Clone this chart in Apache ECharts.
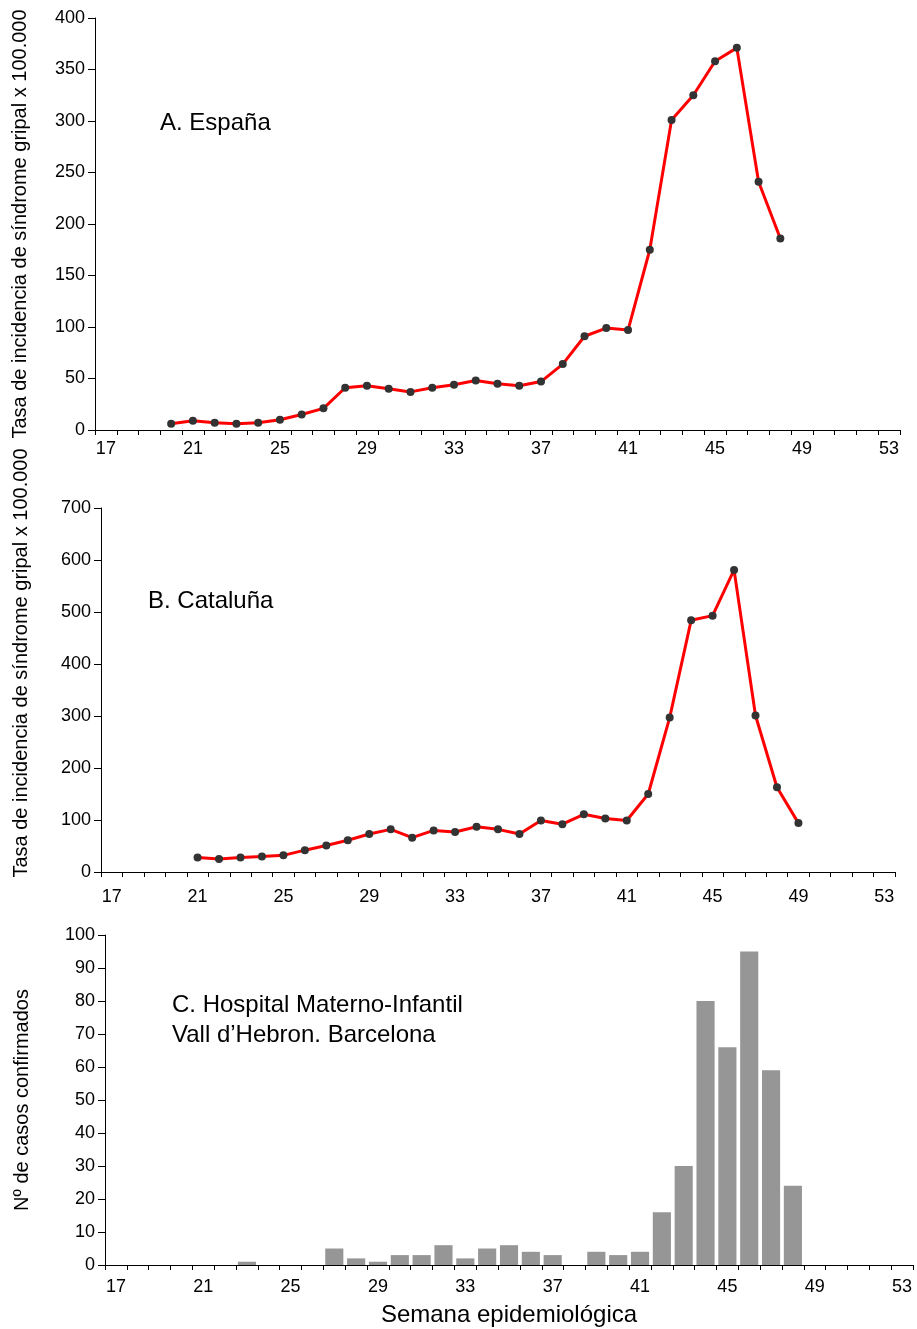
<!DOCTYPE html>
<html>
<head>
<meta charset="utf-8">
<script src="https://cdn.jsdelivr.net/npm/echarts@6/dist/echarts.min.js"></script>
<style>
html,body{margin:0;padding:0;background:#fff;}
#chart{width:917px;height:1329px;}
</style>
</head>
<body>
<div id="chart"></div>
<script>
const weeks = ['17','18','19','20','21','22','23','24','25','26','27','28','29','30','31','32','33','34','35','36','37','38','39','40','41','42','43','44','45','46','47','48','49','50','51','52','53'];

const espana = [null,null,null,6,9,7,6,7,10,15,21,41,43,40,37,41,44,48,45,43,47,64,91,99,97,175,301,325,358,371,241,186,null,null,null,null,null];

const cataluna = [null,null,null,null,28,25,28,30,32,42,51,61,73,82,66,80,77,87,82,73,99,92,111,103,99,150,297,484,493,581,301,163,94,null,null,null,null];

const hospital = [0,0,0,0,0,0,1,0,0,0,5,2,1,3,3,6,2,5,6,4,3,0,4,3,4,16,30,80,66,95,59,24,0,0,0,0,0];

const yTitle = 'Tasa de incidencia de síndrome gripal x 100.000';
const yTitleC = 'Nº de casos confirmados';
const xTitle = 'Semana epidemiológica';
const panelA = 'A. España';
const panelB = 'B. Cataluña';
const panelC = 'C. Hospital Materno-Infantil\nVall d\u2019Hebron. Barcelona';

const FONT = "'Liberation Sans', Arial, sans-serif";
const axisLineStyle = {color:'#000', width:1};

function xAxisCfg(gridIndex, labelMargin, extra) {
  return Object.assign({
    type:'category', gridIndex, data: weeks, boundaryGap:true,
    axisLine:{show:true, lineStyle:axisLineStyle},
    axisTick:{show:true, length:5, lineStyle:axisLineStyle, alignWithLabel:false, interval:0},
    axisLabel:{interval:3, fontSize:18, color:'#000', fontFamily:FONT, margin:labelMargin},
    splitLine:{show:false}
  }, extra || {});
}
function yAxisCfg(gridIndex, max, interval, name, nameGap) {
  return {
    type:'value', gridIndex, min:0, max, interval,
    name, nameLocation:'middle', nameGap, nameRotate:90,
    nameTextStyle:{fontSize:20, color:'#000', fontFamily:FONT},
    axisLine:{show:true, lineStyle:axisLineStyle},
    axisTick:{show:true, length:7, lineStyle:axisLineStyle},
    axisLabel:{fontSize:18, color:'#000', fontFamily:FONT, margin:10},
    splitLine:{show:false}
  };
}

const chart = echarts.init(document.getElementById('chart'), null, {renderer:'canvas'});
chart.setOption({
  backgroundColor:'#fff',
  animation:false,
  textStyle:{fontFamily:FONT},
  grid:[
    {left:95, right:17, top:18, height:412},
    {left:101, right:22, top:508, height:364},
    {left:105, right:4, top:935, height:330}
  ],
  xAxis:[
    xAxisCfg(0, 10),
    xAxisCfg(1, 16),
    xAxisCfg(2, 13, {name:xTitle, nameLocation:'middle', nameGap:38,
      nameTextStyle:{fontSize:24, color:'#000', fontFamily:FONT}})
  ],
  yAxis:[
    yAxisCfg(0, 400, 50, yTitle, 65),
    yAxisCfg(1, 700, 100, '', 71),
    yAxisCfg(2, 100, 10, yTitleC, 73)
  ],
  graphic:[
    {type:'text', left:160, top:111, style:{text:panelA, fontSize:24, fill:'#000', fontFamily:FONT}},
    {type:'text', left:148, top:589, style:{text:panelB, fontSize:24, fill:'#000', fontFamily:FONT}},
    {type:'text', left:172, top:990, style:{text:panelC, fontSize:24, lineHeight:30, fill:'#000', fontFamily:FONT}},
    {type:'text', x:21, y:663, rotation:Math.PI/2,
     style:{text:yTitle, fontSize:20, fill:'#000', fontFamily:FONT, textAlign:'center', textVerticalAlign:'middle', verticalAlign:'middle'}}
  ],
  series:[
    {type:'line', xAxisIndex:0, yAxisIndex:0, data:espana, symbol:'circle', symbolSize:8,
     itemStyle:{color:'#333'}, lineStyle:{color:'#ff0000', width:3}, z:3},
    {type:'line', xAxisIndex:1, yAxisIndex:1, data:cataluna, symbol:'circle', symbolSize:8,
     itemStyle:{color:'#333'}, lineStyle:{color:'#ff0000', width:3}, z:3},
    {type:'bar', xAxisIndex:2, yAxisIndex:2, data:hospital, barCategoryGap:'17%',
     itemStyle:{color:'#969696'}}
  ]
});
</script>
</body>
</html>
